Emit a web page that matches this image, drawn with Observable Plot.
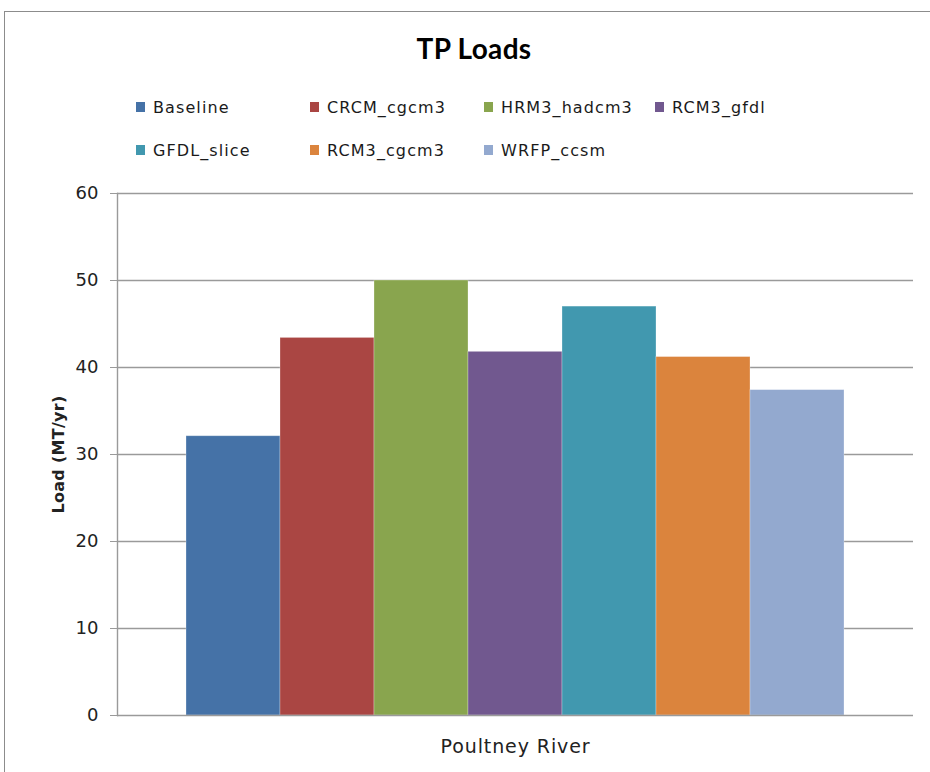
<!DOCTYPE html>
<html>
<head>
<meta charset="utf-8">
<script src="https://cdn.jsdelivr.net/npm/d3@7"></script>
<script src="https://cdn.jsdelivr.net/npm/@observablehq/plot@0.6"></script>
<style>
  html, body { margin: 0; padding: 0; background: #fff; width: 930px; height: 772px; overflow: hidden; }
  #frame { position: absolute; left: 4px; top: 11px; width: 940px; height: 780px; border: 1.5px solid #8c8c8c; box-sizing: border-box; }
  #title { position: absolute; left: 0; width: 948px; top: 31px; text-align: center; font-family: Lato, "Open Sans", sans-serif; font-weight: bold; font-size: 28px; letter-spacing: 0.3px; color: #000; }
  #legend { position: absolute; left: 0; top: 0; font-family: "DejaVu Sans", sans-serif; font-size: 16px; letter-spacing: 1.1px; color: #1a1a1a; }
  .item { position: absolute; white-space: nowrap; display: flex; align-items: center; }
  .sw { width: 9px; height: 10px; margin-right: 8px; }
  #chart { position: absolute; left: 0; top: 170px; }
  g[aria-label="y-axis label"] text { font-weight: bold; font-size: 16px; letter-spacing: 0.3px; }
  g[aria-label="fx-axis tick label"] text { letter-spacing: 0.9px; }
</style>
</head>
<body>
<div id="frame"></div>
<div id="title">TP Loads</div>
<div id="legend"></div>
<div id="chart"></div>
<script>
const river = ["Poultney River"];
const series = ["Baseline", "CRCM_cgcm3", "HRM3_hadcm3", "RCM3_gfdl", "GFDL_slice", "RCM3_cgcm3", "WRFP_ccsm"];
const loads = [32.1, 43.4, 50.0, 41.8, 47.0, 41.2, 37.4];
const colors = ["#4572A7", "#AA4643", "#89A54E", "#71588F", "#4198AF", "#DB843D", "#93A9CF"];
const yTicks = [0, 10, 20, 30, 40, 50, 60];

const data = series.map((s, i) => ({river: river[0], series: s, load: loads[i]}));

// Legend (HTML, Excel-like grid)
const legendCols = [136, 310, 484, 655];
const legendRows = [107, 150];
const legend = document.getElementById("legend");
series.forEach((s, i) => {
  const col = i < 4 ? i : i - 4;
  const row = i < 4 ? 0 : 1;
  const d = document.createElement("div");
  d.className = "item";
  d.style.left = legendCols[col] + "px";
  d.style.top = (legendRows[row] - 10) + "px";
  d.style.height = "20px";
  const sw = document.createElement("span");
  sw.className = "sw";
  sw.style.background = colors[i];
  d.appendChild(sw);
  d.appendChild(document.createTextNode(s));
  legend.appendChild(d);
});

const chart = Plot.plot({
  width: 930,
  height: 600,
  marginLeft: 117,
  marginRight: 17,
  marginTop: 23,
  marginBottom: 55,
  style: {fontFamily: "DejaVu Sans, sans-serif", color: "#222", background: "transparent"},
  fx: {domain: river, padding: 0},
  x: {domain: series, paddingInner: 0, paddingOuter: 0.72, axis: null},
  y: {domain: [0, 60]},
  color: {domain: series, range: colors},
  marks: [
    Plot.ruleY(yTicks.slice(1), {stroke: "#9a9a9a", strokeWidth: 1.4}),
    Plot.barY(data, {fx: "river", x: "series", y: "load", fill: "series", stroke: "white", strokeOpacity: 0.35, strokeWidth: 0.8}),
    Plot.ruleY([0], {stroke: "#9a9a9a", strokeWidth: 1.4}),
    Plot.frame({anchor: "left", stroke: "#9a9a9a", strokeWidth: 1.4}),
    Plot.axisY({ticks: yTicks, tickSize: 7, tickPadding: 12, fontSize: 18, stroke: "#9a9a9a", fill: "#222",
      label: "Load (MT/yr)", labelAnchor: "center", labelArrow: "none", labelOffset: 65}),
    Plot.axisFx({anchor: "bottom", tickSize: 0, tickPadding: 24, fontSize: 19, label: null, fill: "#222"})
  ]
});
document.getElementById("chart").appendChild(chart);
</script>
</body>
</html>
